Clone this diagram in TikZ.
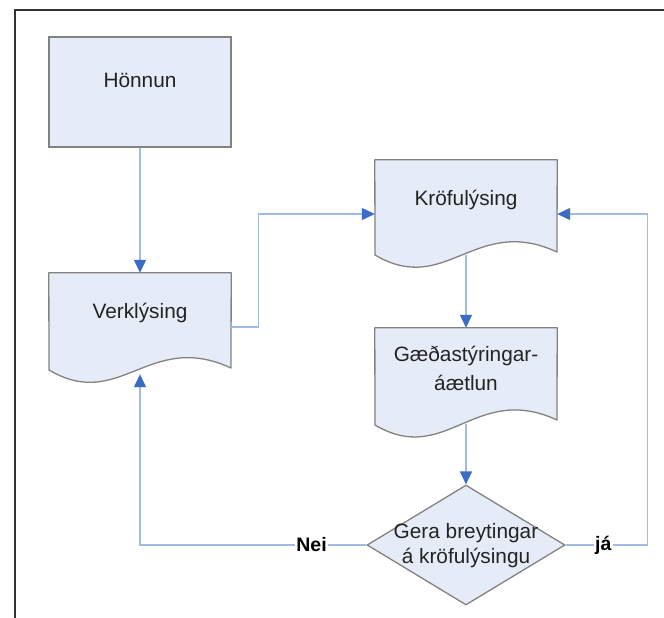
\documentclass[tikz,border=0pt]{standalone}
\usepackage{fontspec}
\setmainfont{Liberation Sans}
\usetikzlibrary{arrows.meta,shapes.geometric,calc}
\definecolor{fillc}{RGB}{230,236,247}
\definecolor{edgec}{RGB}{130,130,130}
\definecolor{linec}{RGB}{160,188,228}
\definecolor{tipc}{RGB}{58,108,198}
\definecolor{txtc}{RGB}{35,35,35}
\definecolor{framec}{RGB}{50,50,50}
\begin{document}
\begin{tikzpicture}[x=1pt,y=-1pt,
  box/.style={draw=edgec,fill=fillc,line width=1.3pt,inner sep=0pt},
  area/.style={inner sep=0pt,minimum width=182pt,minimum height=108pt},
  docedge/.style={draw=edgec,fill=fillc,line width=1.3pt,line join=round},
  txt/.style={text=txtc,font=\fontsize{20.8}{24}\selectfont,align=center,inner sep=0pt},
  conn/.style={draw=linec,line width=1.3pt,-{Triangle[length=13pt,width=12pt,color=tipc]}},
  lbl/.style={fill=white,text=black,font=\bfseries\fontsize{19.5}{19.5}\selectfont,inner sep=1.5pt},
  frame/.style={draw=framec,line width=1.6pt}]
\useasboundingbox (0,0) rectangle (664,618);
\clip (0,0) rectangle (664,618);
\fill[white] (0,0) rectangle (664,618);
\draw[frame] (15,10) rectangle (720,720);

% Hönnun
\node[box,minimum width=182pt,minimum height=110pt] (hon) at (140,92) {};
\node[txt] (hont) at (140,80) {Hönnun};

% Verklýsing
\node[area] (verk) at (140,327) {};
\path[docedge] (verk.north west) -- (verk.north east) -- (231,368)
  .. controls (149,330) and (120,412) .. (49,370) -- cycle;
\node[txt] (verkt) at (140,313) {Verklýsing};

% Kröfulýsing
\node[area] (kro) at (466,214) {};
\path[docedge] (kro.north west) -- (kro.north east) -- (557,252)
  .. controls (475,214) and (446,297) .. (375,255) -- cycle;
\node[txt] (krot) at (466,200) {Kröfulýsing};

% Gæðastýringaráætlun
\node[area] (gae) at (466,382) {};
\path[docedge] (gae.north west) -- (gae.north east) -- (557,420)
  .. controls (475,382) and (446,467) .. (375,425) -- cycle;
\node[txt,font=\fontsize{20.8}{29}\selectfont] (gaet) at (466,368) {Gæðastýringar-\\áætlun};

% Decision
\node[diamond,draw=edgec,fill=fillc,line width=1.3pt,minimum width=198pt,minimum height=120pt,inner sep=0pt] (dia) at (466,545) {};
\node[txt,font=\fontsize{20.8}{25}\selectfont] (diat) at (466,546) {Gera breytingar\\á kröfulýsingu};

% Connectors
\draw[conn] (hon.south) -- (verk.north);
\draw[conn] (verk.east) -- ++(27,0) |- (kro.west);
\draw[conn] (kro.south) ++(0,-13) -- (gae.north);
\draw[conn] (gae.south) ++(0,-12) -- (dia.north);
\draw[conn] (dia.west) -| ([yshift=7pt]verk.south) node[lbl,pos=0.121] {Nei};
\draw[conn] (dia.east) -- ++(82,0) node[lbl,pos=0.46] {já} |- (kro.east);
\end{tikzpicture}
\end{document}
